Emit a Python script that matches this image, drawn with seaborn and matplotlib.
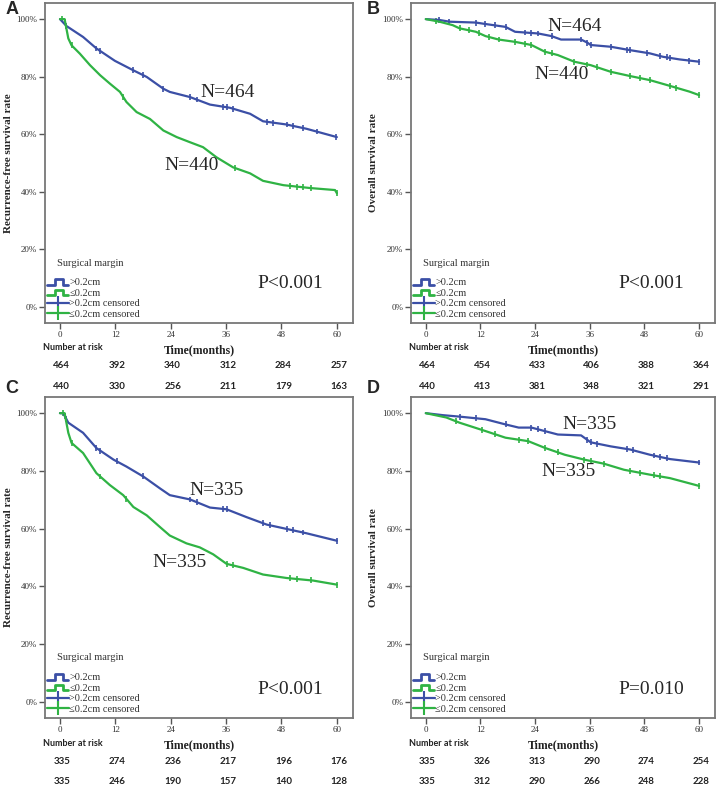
import numpy as np
import pandas as pd
import matplotlib
matplotlib.use("Agg")
import matplotlib.pyplot as plt
from matplotlib.lines import Line2D
from matplotlib.legend_handler import HandlerBase
import seaborn as sns

## data (time in months, survival in %)

a_blue_t = [0, 1.4, 5, 7.9, 11.9, 15.9, 18.8, 22.4, 23.8, 28.2, 32.5, 36.8, 41.2, 44, 49, 53.4, 60]
a_blue_s = [100, 97.6, 93.8, 89.8, 85.5, 82.2, 79.9, 75.8, 74.7, 72.9, 70.3, 69.2, 67.1, 64.5, 63.4, 61.9, 59]
a_green_t = [0, 1.0, 1.8, 2.5, 4.3, 6.5, 8.7, 10.8, 13, 14.4, 16.6, 19.5, 22.4, 25.3, 28.2, 31, 33.9, 37.5,
             41.2, 44, 48.4, 54.2, 59.6, 60]
a_green_s = [100, 100, 93.3, 90.9, 88, 84, 80.5, 77.6, 74.7, 71.2, 67.7, 65.3, 61.3, 59, 57.2, 55.5, 52, 48.5,
             46.4, 43.8, 42.3, 41.3, 40.6, 39.5]
a_blue_cens = [1.4, 7.9, 8.7, 15.9, 18, 22.4, 28.2, 29.6, 35.4, 36.1, 37.5, 44.8, 46.2, 49.1, 50.5, 52.7, 55.6, 59.9]
a_green_cens = [0.4, 1.1, 2.5, 13.7, 37.9, 49.8, 51.3, 52.7, 54.5, 60]

b_blue_t = [0, 3, 5.2, 11, 13.1, 17.5, 19.6, 24.7, 27.6, 29.7, 34.1, 35.5, 36.2, 40.6, 44.9, 49.2, 52.1, 55.7, 60]
b_blue_s = [100, 99.7, 99.1, 98.8, 98.3, 97.3, 95.6, 95, 94.1, 92.9, 92.9, 91.8, 91, 90.4, 89.2, 88.1, 86.9, 86, 85.2]
b_green_t = [0, 3, 5.9, 7.4, 11, 13.1, 16, 19.6, 23.2, 26.1, 29, 32.6, 36.2, 40.6, 44.9, 49.2, 53.6, 57.9, 60]
b_green_s = [100, 99.1, 97.9, 96.8, 95.6, 94.1, 92.9, 92.1, 91, 88.7, 87.5, 85.2, 84, 81.7, 80.2, 78.8, 76.8, 74.8, 73.6]
b_blue_cens = [3, 5.2, 11, 13.1, 15.3, 17.5, 21.8, 23.2, 24.7, 27.6, 34.1, 35.5, 36.2, 40.6, 44.2, 44.9, 48.5,
               51.4, 52.9, 53.6, 57.9, 60]
b_green_cens = [2.3, 7.4, 9.5, 11.7, 13.9, 16, 19.6, 21.8, 23.2, 26.1, 27.6, 32.6, 35.5, 37.7, 40.6, 44.9, 47.1,
                49.2, 53.6, 55, 60]

c_blue_t = [0, 0.7, 1.8, 5, 7.9, 11.6, 14.4, 18.1, 21.7, 23.8, 28.2, 32.5, 36.1, 40.4, 44.8, 49.1, 53.4, 60]
c_blue_s = [100, 100, 96.7, 93.2, 87.9, 83.9, 81.5, 78, 73.9, 71.6, 70.1, 67.3, 66.7, 64, 61.4, 59.9, 58.4, 55.8]
c_green_t = [0, 1.0, 1.8, 2.5, 5, 7.9, 10.8, 13.7, 15.9, 18.8, 21.7, 23.8, 27.4, 30.3, 33.2, 36.1, 39.7, 44,
             49.1, 54.9, 60]
c_green_s = [100, 100, 93.2, 89.7, 86.2, 79.2, 75.1, 71.6, 67.5, 64.6, 60.5, 57.6, 54.9, 53.5, 51.1, 47.8, 46.4,
             44.1, 42.9, 42, 40.6]
c_blue_cens = [1.4, 7.9, 8.7, 12.3, 18, 28.2, 29.6, 35.4, 36.1, 44, 45.5, 49.1, 50.5, 52.7, 60]
c_green_cens = [0.7, 1.1, 2.5, 8.7, 14.4, 36.1, 37.5, 49.8, 51.3, 54.5, 60]

d_blue_t = [0, 3.8, 7.4, 13.1, 17.5, 20.4, 23.2, 26.1, 29, 34.1, 36.2, 40.6, 44.9, 49.2, 53.6, 60]
d_blue_s = [100, 99.3, 98.8, 97.9, 96.1, 95, 95, 93.8, 92.6, 92.3, 89.9, 88.5, 87.4, 85.6, 84.1, 82.9]
d_green_t = [0, 4.5, 7.4, 13.1, 17.5, 22.5, 26.1, 30.5, 34.8, 39.1, 43.5, 49.2, 53.6, 60]
d_green_s = [100, 98.5, 96.7, 93.8, 91.5, 90.3, 88, 85.6, 83.9, 82.5, 80.4, 78.7, 77.5, 74.8]
d_blue_cens = [7.4, 11, 17.5, 23.2, 24.7, 26.1, 35.5, 36.2, 37.7, 44.2, 45.6, 50, 51.4, 52.9, 60]
d_green_cens = [6.6, 12.4, 15.3, 20.4, 22.5, 26.1, 29, 34.8, 36.2, 39.1, 44.9, 47.1, 50, 51.4, 60]

risk_times = [0, 12, 24, 36, 48, 60]
a_risk_blue = [464, 392, 340, 312, 284, 257]
a_risk_green = [440, 330, 256, 211, 179, 163]
b_risk_blue = [464, 454, 433, 406, 388, 364]
b_risk_green = [440, 413, 381, 348, 321, 291]
c_risk_blue = [335, 274, 236, 217, 196, 176]
c_risk_green = [335, 246, 190, 157, 140, 128]
d_risk_blue = [335, 326, 313, 290, 274, 254]
d_risk_green = [335, 312, 290, 266, 248, 228]

ylabels = ["Recurrence-free survival rate", "Overall survival rate",
           "Recurrence-free survival rate", "Overall survival rate"]
n_labels = [("N=464", "N=440"), ("N=464", "N=440"), ("N=335", "N=335"), ("N=335", "N=335")]
p_labels = ["P<0.001", "P<0.001", "P<0.001", "P=0.010"]
panel_letters = ["A", "B", "C", "D"]
groups = [">0.2cm", "\u22640.2cm"]

BLUE = "#3b4fa6"
GREEN = "#2fb344"
SERIF = ["Liberation Serif", "DejaVu Serif"]
SANS = ["Lato", "DejaVu Sans"]

sns.set_style("white")
plt.rcParams["font.family"] = SERIF


class StepHandler(HandlerBase):
    def create_artists(self, legend, orig_handle, xdescent, ydescent, width, height, fontsize, trans):
        xs = np.array([0, 0.38, 0.38, 0.75, 0.75, 0.95]) * width - xdescent
        ys = np.array([0.1, 0.1, 0.85, 0.85, 0.1, 0.1]) * height - ydescent
        ln = Line2D(xs, ys, color=orig_handle.get_color(), lw=2)
        ln.set_transform(trans)
        return [ln]


fig = plt.figure(figsize=(7.22, 7.86), dpi=100)
W, H = 722, 786
boxes = [(45, 3, 353, 323), (411, 3, 715, 323), (45, 397, 353, 718), (411, 397, 715, 718)]
ylabel_right = [13, 378, 13, 378]  # pixel x of the right side of the rotated y label

panels = [
    (a_blue_t, a_blue_s, a_green_t, a_green_s, a_blue_cens, a_green_cens, a_risk_blue, a_risk_green,
     (36.4, 74.6), (28.5, 49), (49.8, 8.3)),
    (b_blue_t, b_blue_s, b_green_t, b_green_s, b_blue_cens, b_green_cens, b_risk_blue, b_risk_green,
     (32.7, 97.3), (29.9, 80.6), (49.6, 8.3)),
    (c_blue_t, c_blue_s, c_green_t, c_green_s, c_blue_cens, c_green_cens, c_risk_blue, c_risk_green,
     (34, 73.1), (25.8, 48.2), (49.8, 4.2)),
    (d_blue_t, d_blue_s, d_green_t, d_green_s, d_blue_cens, d_green_cens, d_risk_blue, d_risk_green,
     (36, 96.1), (31.4, 79.8), (49.6, 4.2)),
]

for i, (bt, bs, gt, gs, bc, gc, rb, rg, nb_pos, ng_pos, p_pos) in enumerate(panels):
    x0, y0, x1, y1 = boxes[i]
    aw, ah = x1 - x0, y1 - y0
    ax = fig.add_axes([x0 / W, 1 - y1 / H, aw / W, ah / H])

    df = pd.DataFrame({
        "time": bt + gt,
        "surv": bs + gs,
        "group": [groups[0]] * len(bt) + [groups[1]] * len(gt),
    })
    sns.lineplot(data=df, x="time", y="surv", hue="group", palette=[BLUE, GREEN],
                 estimator=None, sort=False, lw=1.6, legend=False, ax=ax)

    # censor marks sit on the curves
    cens = pd.DataFrame({
        "time": bc + gc,
        "surv": list(np.interp(bc, bt, bs)) + list(np.interp(gc, gt, gs)),
        "group": [groups[0]] * len(bc) + [groups[1]] * len(gc),
    })
    sns.scatterplot(data=cens, x="time", y="surv", hue="group", palette=[BLUE, GREEN],
                    marker="|", s=18, linewidth=1.2, legend=False, ax=ax)

    ax.set_xlim(-3.25, 63.5)
    ax.set_ylim(-5.6, 105.6)
    ax.set_xticks(risk_times)
    ax.set_yticks([0, 20, 40, 60, 80, 100])
    ax.set_yticklabels(["0%", "20%", "40%", "60%", "80%", "100%"])
    ax.tick_params(axis="both", direction="out", length=4, width=1, color="#555555",
                   labelsize=6.5, labelcolor="#333333", pad=1.5)
    ax.tick_params(axis="both", which="both", bottom=True, left=True)
    for sp in ax.spines.values():
        sp.set_color("#777777")
        sp.set_linewidth(1.3)
    ax.set_xlabel("")
    ax.set_ylabel(ylabels[i], fontsize=8, fontweight="bold")
    ax.yaxis.set_label_coords((ylabel_right[i] - x0) / aw, 0.5)

    ax.text(nb_pos[0], nb_pos[1], n_labels[i][0], fontsize=14, ha="center", va="center")
    ax.text(ng_pos[0], ng_pos[1], n_labels[i][1], fontsize=14, ha="center", va="center")
    ax.text(p_pos[0], p_pos[1], p_labels[i], fontsize=14, ha="center", va="center")

    handles = [Line2D([], [], color=BLUE), Line2D([], [], color=GREEN),
               Line2D([], [], color=BLUE, marker="|", markersize=10, mew=1.5, lw=1.6),
               Line2D([], [], color=GREEN, marker="|", markersize=10, mew=1.5, lw=1.6)]
    labels = [groups[0], groups[1], groups[0] + " censored", groups[1] + " censored"]
    step = StepHandler()
    leg = ax.legend(handles, labels, loc="lower left", bbox_to_anchor=(2 / aw, 4 / ah),
                    frameon=False, fontsize=7.5, borderpad=0,
                    handlelength=2.1, handletextpad=0.05, labelspacing=0.12, borderaxespad=0,
                    numpoints=1, handler_map={handles[0]: step, handles[1]: step})
    for t in leg.get_texts():
        t.set_color("#333333")
    ax.text(12 / aw, 60 / ah, "Surgical margin", transform=ax.transAxes, fontsize=7.5,
            color="#333333", ha="left", va="center")

    # number at risk table
    trans = ax.get_xaxis_transform()
    ax.text(0.09, -0.078, "Number at risk", transform=ax.transAxes, fontsize=6.5,
            fontweight="bold", family=SANS, ha="center", va="center", color="#222222")
    ax.text(0.5, -0.085, "Time(months)", transform=ax.transAxes, fontsize=8.5,
            fontweight="bold", ha="center", va="center", color="#222222")
    for t, v1, v2 in zip(risk_times, rb, rg):
        ax.text(t + 0.4, -0.134, str(v1), transform=trans, fontsize=7, fontweight="bold",
                family=SANS, ha="center", va="center", color="#222222")
        ax.text(t + 0.4, -0.197, str(v2), transform=trans, fontsize=7, fontweight="bold",
                family=SANS, ha="center", va="center", color="#222222")

letter_pos = [(12, 9), (373, 9), (12, 388), (373, 388)]
for letter, (px, py) in zip(panel_letters, letter_pos):
    fig.text(px / W, 1 - py / H, letter, fontsize=13, fontweight="bold", family=["Liberation Sans"],
             ha="center", va="center")

fig.savefig("out.png", dpi=100)
